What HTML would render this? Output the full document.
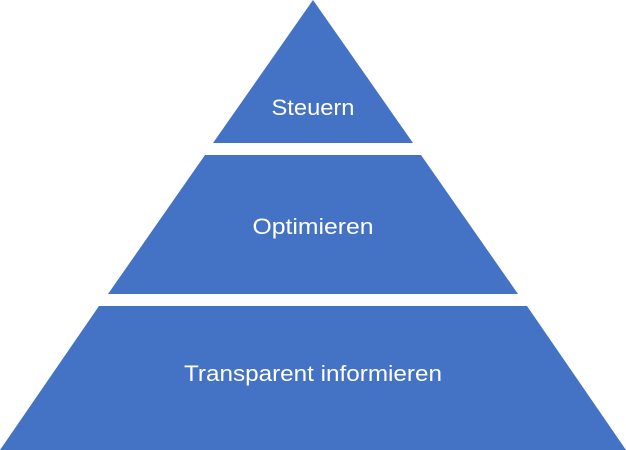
<!DOCTYPE html>
<html><head><style>body{margin:0;background:#fff}svg{display:block}</style></head>
<body>
<svg width="626" height="450" xmlns="http://www.w3.org/2000/svg">
<g fill="#4472C4">
<polygon points="313,0 413,143 213,143"/>
<polygon points="205,155 421,155 518,294 108,294"/>
<polygon points="99,306 527,306 626,450 0,450"/>
</g>
<g fill="#fff" font-family="'Liberation Sans',sans-serif" font-size="22" text-anchor="middle">
<text x="313" y="115" textLength="83" lengthAdjust="spacingAndGlyphs">Steuern</text>
<text x="313" y="234" textLength="121" lengthAdjust="spacingAndGlyphs">Optimieren</text>
<text x="313" y="381" textLength="258" lengthAdjust="spacingAndGlyphs">Transparent informieren</text>
</g>
</svg>
</body></html>
